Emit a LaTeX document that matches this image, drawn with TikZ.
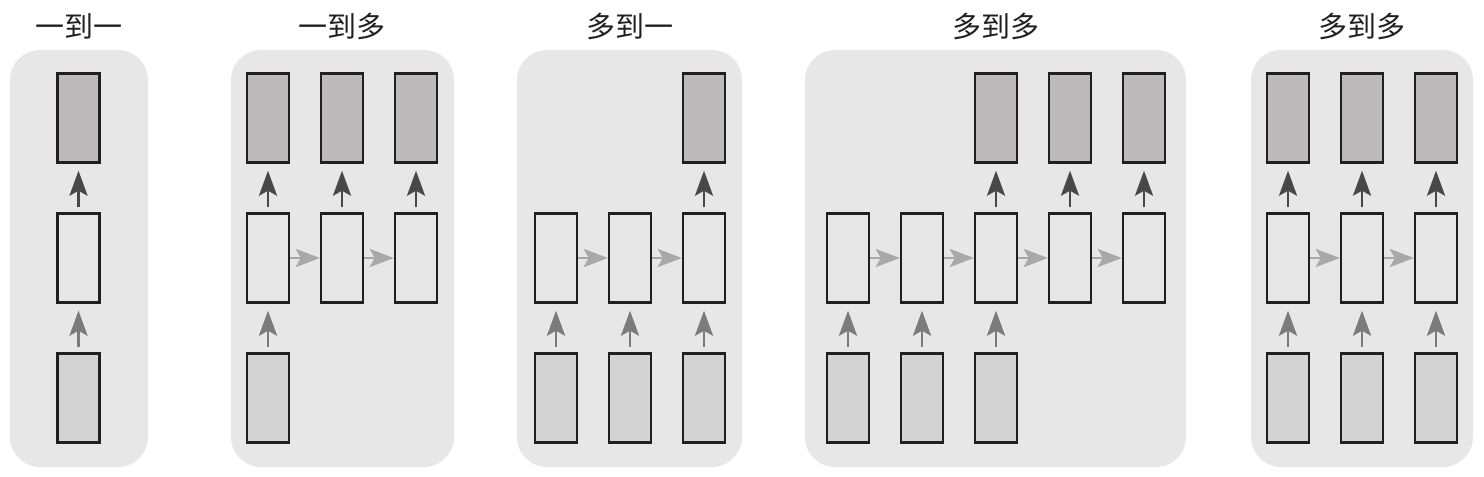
\documentclass[tikz,border=0pt]{standalone}
\usepackage{fontspec}
\newfontfamily\cjk{Noto Sans CJK SC}
\usetikzlibrary{arrows.meta}
\definecolor{panelbg}{HTML}{E7E7E7}
\definecolor{outfill}{HTML}{BCBABB}
\definecolor{infill}{HTML}{D3D3D3}
\definecolor{boxline}{HTML}{231F20}
\definecolor{outarrow}{HTML}{4A4748}
\definecolor{inarrow}{HTML}{7C7B7B}
\definecolor{harrow}{HTML}{A9A8A8}
\definecolor{titletext}{HTML}{231F20}
\tikzset{
  panel/.style={fill=panelbg, rounded corners=30bp},
  cell/.style={draw=boxline, line width=2.4bp, minimum width=42bp, minimum height=89bp, inner sep=0pt},
  outcell/.style={cell, fill=outfill},
  hidcell/.style={cell, fill=panelbg},
  incell/.style={cell, fill=infill},
  uparrowdark/.style={draw=outarrow, line width=2.7bp, -{Stealth[length=25bp,width=18bp,inset=5bp]}, shorten <=5bp, shorten >=7bp},
  uparrowmid/.style={draw=inarrow, line width=2.7bp, -{Stealth[length=25bp,width=18bp,inset=5bp]}, shorten <=5bp, shorten >=7bp},
  rarrow/.style={draw=harrow, line width=2.7bp, -{Stealth[length=24bp,width=18bp,inset=5bp]}},
  title/.style={font=\cjk\fontsize{29bp}{32bp}\selectfont, text=titletext, inner sep=0pt}
}
\begin{document}
\begin{tikzpicture}[x=1bp,y=-1bp]
\useasboundingbox (0,0) rectangle (1484,477);
% panels
\fill[panel] (10,50) rectangle (148,467);
\fill[panel] (231,50) rectangle (454,467);
\fill[panel] (517,50) rectangle (742,467);
\fill[panel] (805,50) rectangle (1186,467);
\fill[panel] (1251,50) rectangle (1473,467);
% titles
\node[title] (t1) at (79,26) {一到一};
\node[title] (t2) at (342,26) {一到多};
\node[title] (t3) at (630,26) {多到一};
\node[title] (t4) at (996,26) {多到多};
\node[title] (t5) at (1362,26) {多到多};
% panel 1
\node[outcell] (a-o) at (78.5,118) {};
\node[hidcell] (a-h) at (78.5,258) {};
\node[incell]  (a-i) at (78.5,398) {};
\draw[uparrowdark] (a-h.north) -- (a-o.south);
\draw[uparrowmid] (a-i.north) -- (a-h.south);
% panel 2
\foreach \i/\x in {1/268,2/342,3/416}{
  \node[outcell] (b-o\i) at (\x,118) {};
  \node[hidcell] (b-h\i) at (\x,258) {};
  \draw[uparrowdark] (b-h\i.north) -- (b-o\i.south);
}
\node[incell] (b-i1) at (268,398) {};
\draw[uparrowmid] (b-i1.north) -- (b-h1.south);
\draw[rarrow] (b-h1.east) -- (b-h2.west);
\draw[rarrow] (b-h2.east) -- (b-h3.west);
% panel 3
\foreach \i/\x in {1/556,2/630,3/704}{
  \node[hidcell] (c-h\i) at (\x,258) {};
  \node[incell] (c-i\i) at (\x,398) {};
  \draw[uparrowmid] (c-i\i.north) -- (c-h\i.south);
}
\node[outcell] (c-o3) at (704,118) {};
\draw[uparrowdark] (c-h3.north) -- (c-o3.south);
\draw[rarrow] (c-h1.east) -- (c-h2.west);
\draw[rarrow] (c-h2.east) -- (c-h3.west);
% panel 4
\foreach \i/\x in {1/848,2/922,3/996,4/1070,5/1144}{
  \node[hidcell] (d-h\i) at (\x,258) {};
}
\foreach \i/\x in {1/848,2/922,3/996}{
  \node[incell] (d-i\i) at (\x,398) {};
  \draw[uparrowmid] (d-i\i.north) -- (d-h\i.south);
}
\foreach \i/\x in {3/996,4/1070,5/1144}{
  \node[outcell] (d-o\i) at (\x,118) {};
  \draw[uparrowdark] (d-h\i.north) -- (d-o\i.south);
}
\draw[rarrow] (d-h1.east) -- (d-h2.west);
\draw[rarrow] (d-h2.east) -- (d-h3.west);
\draw[rarrow] (d-h3.east) -- (d-h4.west);
\draw[rarrow] (d-h4.east) -- (d-h5.west);
% panel 5
\foreach \i/\x in {1/1288,2/1362,3/1436}{
  \node[outcell] (e-o\i) at (\x,118) {};
  \node[hidcell] (e-h\i) at (\x,258) {};
  \node[incell] (e-i\i) at (\x,398) {};
  \draw[uparrowdark] (e-h\i.north) -- (e-o\i.south);
  \draw[uparrowmid] (e-i\i.north) -- (e-h\i.south);
}
\draw[rarrow] (e-h1.east) -- (e-h2.west);
\draw[rarrow] (e-h2.east) -- (e-h3.west);
\end{tikzpicture}
\end{document}
